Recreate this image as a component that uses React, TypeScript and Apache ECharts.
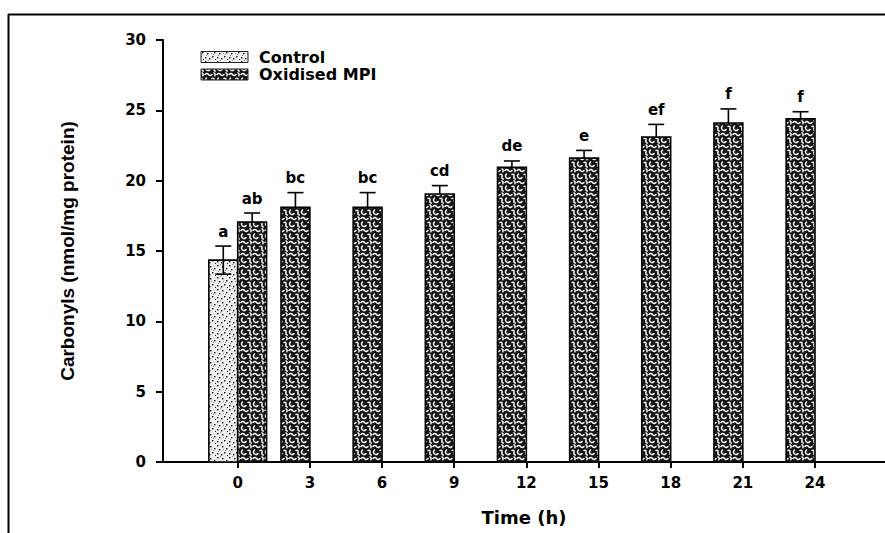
import React, { useEffect, useRef } from "react";
import * as echarts from "echarts";

// Sampling times (h) and carbonyl content (nmol/mg protein), mean ± SEM
const times = [0, 3, 6, 9, 12, 15, 18, 21, 24];
const controlMean = [14.35, null, null, null, null, null, null, null, null];
const controlSem = [1.0, null, null, null, null, null, null, null, null];
const controlLetters = ["a", "", "", "", "", "", "", "", ""];
const oxidisedMean = [17.05, 18.1, 18.1, 19.05, 20.95, 21.6, 23.1, 24.1, 24.4];
const oxidisedSem = [0.65, 1.05, 1.05, 0.6, 0.45, 0.55, 0.9, 1.0, 0.5];
const oxidisedLetters = ["ab", "bc", "bc", "cd", "de", "e", "ef", "f", "f"];
const seriesNames = ["Control", "Oxidised MPI"];

const FONT = '"DejaVu Sans", "Liberation Sans", Arial, sans-serif';

function controlTile(): string {
  const c = document.createElement("canvas");
  c.width = 12;
  c.height = 12;
  const g = c.getContext("2d")!;
  g.fillStyle = "#efefef";
  g.fillRect(0, 0, 12, 12);
  g.fillStyle = "#111";
  const dots = [
    [1, 1], [6, 2], [10, 4], [3, 5], [8, 8], [1, 9], [5, 10], [11, 11],
  ];
  dots.forEach(([x, y]) => g.fillRect(x, y, 1.4, 1.4));
  g.fillStyle = "#888";
  [[4, 0], [9, 6], [2, 7], [7, 5]].forEach(([x, y]) => g.fillRect(x, y, 1, 1));
  return c.toDataURL();
}

function oxidisedTile(): string {
  const c = document.createElement("canvas");
  c.width = 12;
  c.height = 12;
  const g = c.getContext("2d")!;
  g.fillStyle = "#141414";
  g.fillRect(0, 0, 12, 12);
  g.strokeStyle = "#f6f6f6";
  g.lineWidth = 1.5;
  g.lineCap = "round";
  const worm = (pts: number[]) => {
    g.beginPath();
    g.moveTo(pts[0], pts[1]);
    for (let i = 2; i < pts.length; i += 4) {
      g.quadraticCurveTo(pts[i], pts[i + 1], pts[i + 2], pts[i + 3]);
    }
    g.stroke();
  };
  worm([1, 2.5, 3, 0.5, 4.5, 2.5, 6, 4.5, 8, 2.5]);
  worm([2.5, 6, 0.5, 8, 2.5, 10, 4.5, 11.5, 6, 9.5]);
  worm([8, 6.5, 10.5, 5.5, 10, 8.5, 9.5, 11, 11.5, 11]);
  worm([10, 0.8, 11.8, 2, 10.8, 3.8]);
  return c.toDataURL();
}

export default function App() {
  const ref = useRef<HTMLDivElement>(null);

  useEffect(() => {
    if (!ref.current) return;
    const chart = echarts.init(ref.current, undefined, { renderer: "svg" });

    const patterns = [
      { image: controlTile(), repeat: "repeat", imageWidth: 12, imageHeight: 12 },
      { image: oxidisedTile(), repeat: "repeat", imageWidth: 12, imageHeight: 12 },
    ];
    const means = [controlMean, oxidisedMean];
    const sems = [controlSem, oxidisedSem];
    const letters = [controlLetters, oxidisedLetters];
    const lowerWhisker = [true, false];
    const barHours = 1.2;

    const makeData = (s: number) =>
      times
        .map((t, i) => [t, means[s][i], sems[s][i], i])
        .filter((d) => d[1] !== null);

    const renderItem = (params: any, api: any) => {
      const s = params.seriesIndex;
      const t = api.value(0);
      const m = api.value(1);
      const e = api.value(2);
      const idx = api.value(3);
      const present = means
        .map((arr, k) => (arr[idx] !== null ? k : -1))
        .filter((k) => k >= 0);
      const slot = present.indexOf(s);
      const w = api.size([barHours, 0])[0];
      const base = api.coord([t, 0]);
      const top = api.coord([t, m]);
      const hi = api.coord([t, m + e]);
      const lo = api.coord([t, m - e]);
      const left = base[0] + (slot - 1) * w;
      const cx = left + w / 2;
      const capHalf = 8;
      const line = { stroke: "#000", lineWidth: 1.6 };
      const children: any[] = [
        {
          type: "rect",
          shape: { x: left, y: top[1], width: w, height: base[1] - top[1] },
          style: { fill: patterns[s], stroke: "#000", lineWidth: 1.6 },
        },
        {
          type: "line",
          shape: { x1: cx, y1: lowerWhisker[s] ? lo[1] : top[1], x2: cx, y2: hi[1] },
          style: line,
        },
        {
          type: "line",
          shape: { x1: cx - capHalf, y1: hi[1], x2: cx + capHalf, y2: hi[1] },
          style: line,
        },
        {
          type: "text",
          style: {
            text: letters[s][idx],
            x: cx,
            y: hi[1] - 7,
            align: "center",
            verticalAlign: "bottom",
            font: `bold 15px ${FONT}`,
            fill: "#000",
          },
        },
      ];
      if (lowerWhisker[s]) {
        children.push({
          type: "line",
          shape: { x1: cx - capHalf, y1: lo[1], x2: cx + capHalf, y2: lo[1] },
          style: line,
        });
      }
      return { type: "group", children };
    };

    const legendItems = seriesNames.flatMap((name, k) => [
      {
        type: "rect",
        shape: { x: 201, y: 51.5 + k * 17.5, width: 47, height: 11 },
        style: { fill: patterns[k], stroke: "#222", lineWidth: 1 },
      },
      {
        type: "text",
        style: {
          text: name,
          x: 259,
          y: 57 + k * 17.5,
          verticalAlign: "middle",
          font: `bold 16px ${FONT}`,
          fill: "#000",
        },
      },
    ]);

    chart.setOption({
      animation: false,
      backgroundColor: "#fff",
      grid: { left: 163, right: 0, top: 40, bottom: 71 },
      xAxis: {
        type: "value",
        min: -3.106,
        max: 26.91,
        name: "Time (h)",
        nameLocation: "middle",
        nameGap: 46,
        nameTextStyle: { fontFamily: FONT, fontWeight: "bold", fontSize: 18, color: "#000" },
        axisLine: { onZero: false, lineStyle: { color: "#000", width: 2 } },
        axisTick: { customValues: times, length: 6, lineStyle: { color: "#000", width: 2 } },
        axisLabel: {
          customValues: times,
          fontFamily: FONT,
          fontWeight: "bold",
          fontSize: 15,
          color: "#000",
          margin: 13,
        },
        splitLine: { show: false },
      },
      yAxis: {
        type: "value",
        min: 0,
        max: 30,
        interval: 5,
        name: "Carbonyls (nmol/mg protein)",
        nameLocation: "middle",
        nameRotate: 90,
        nameGap: 86,
        nameTextStyle: {
          fontFamily: '"Liberation Sans", Arial, sans-serif',
          fontWeight: "bold",
          fontSize: 19,
          color: "#000",
        },
        axisLine: { show: true, onZero: false, lineStyle: { color: "#000", width: 2 } },
        axisTick: { show: true, length: 7, lineStyle: { color: "#000", width: 2 } },
        axisLabel: {
          fontFamily: FONT,
          fontWeight: "bold",
          fontSize: 15,
          color: "#000",
          margin: 17,
        },
        splitLine: { show: false },
      },
      series: seriesNames.map((name, s) => ({
        name,
        type: "custom",
        renderItem,
        data: makeData(s),
        encode: { x: 0, y: 1 },
        clip: false,
      })),
      graphic: [
        {
          type: "line",
          shape: { x1: 8.5, y1: 14, x2: 8.5, y2: 533 },
          style: { stroke: "#000", lineWidth: 2 },
        },
        {
          type: "line",
          shape: { x1: 8, y1: 14.5, x2: 885, y2: 14.5 },
          style: { stroke: "#000", lineWidth: 2 },
        },
        ...legendItems,
      ],
    });

    return () => chart.dispose();
  }, []);

  return (
    <div
      ref={ref}
      style={{ position: "absolute", left: 0, top: 0, width: 885, height: 533 }}
    />
  );
}
